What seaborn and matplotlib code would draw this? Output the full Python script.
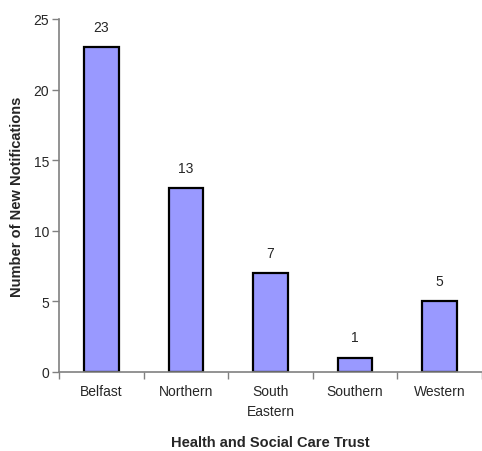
import matplotlib
matplotlib.use("Agg")
import matplotlib.pyplot as plt
import seaborn as sns
import pandas as pd
import numpy as np

trusts = ["Belfast", "Northern", "South\nEastern", "Southern", "Western"]
notifications = [23, 13, 7, 1, 5]
y_ticks = [0, 5, 10, 15, 20, 25]

sns.set_style("white")
plt.rcParams["font.family"] = ["Liberation Sans", "DejaVu Sans"]

df = pd.DataFrame({"trust": trusts, "count": notifications})

fig = plt.figure(figsize=(4.82, 4.52), dpi=100)
ax = fig.add_axes([0.1224, 0.1748, 0.8776, 0.781])

sns.barplot(data=df, x="trust", y="count", color="#9999FF", saturation=1,
            width=0.41, edgecolor="black", linewidth=1.6, ax=ax)

for patch, v in zip(ax.patches, notifications):
    ax.text(patch.get_x() + patch.get_width() / 2, v + 0.95, str(v),
            ha="center", va="bottom", fontsize=10)

ax.set_ylim(0, 25)
ax.set_xlim(-0.5, 4.5)
ax.set_yticks(y_ticks)
ax.tick_params(axis="y", direction="out", length=5, width=1, color="#808080",
               labelsize=10, pad=2, left=True)
ax.tick_params(axis="x", which="major", length=0, labelsize=10, pad=9)
for lbl in ax.get_xticklabels():
    lbl.set_linespacing(1.5)
ax.set_xticks(np.arange(-0.5, 5, 1), minor=True)
ax.tick_params(axis="x", which="minor", direction="out", length=5, width=1,
               color="#808080", bottom=True)

for side in ["top", "right"]:
    ax.spines[side].set_visible(False)
for side in ["left", "bottom"]:
    ax.spines[side].set_color("#808080")
    ax.spines[side].set_linewidth(1.2)

ax.set_xlabel("Health and Social Care Trust", fontsize=10.5, fontweight="bold", labelpad=12)
ax.set_ylabel("Number of New Notifications", fontsize=10.5, fontweight="bold", labelpad=7)

fig.savefig("out.png", dpi=100)
